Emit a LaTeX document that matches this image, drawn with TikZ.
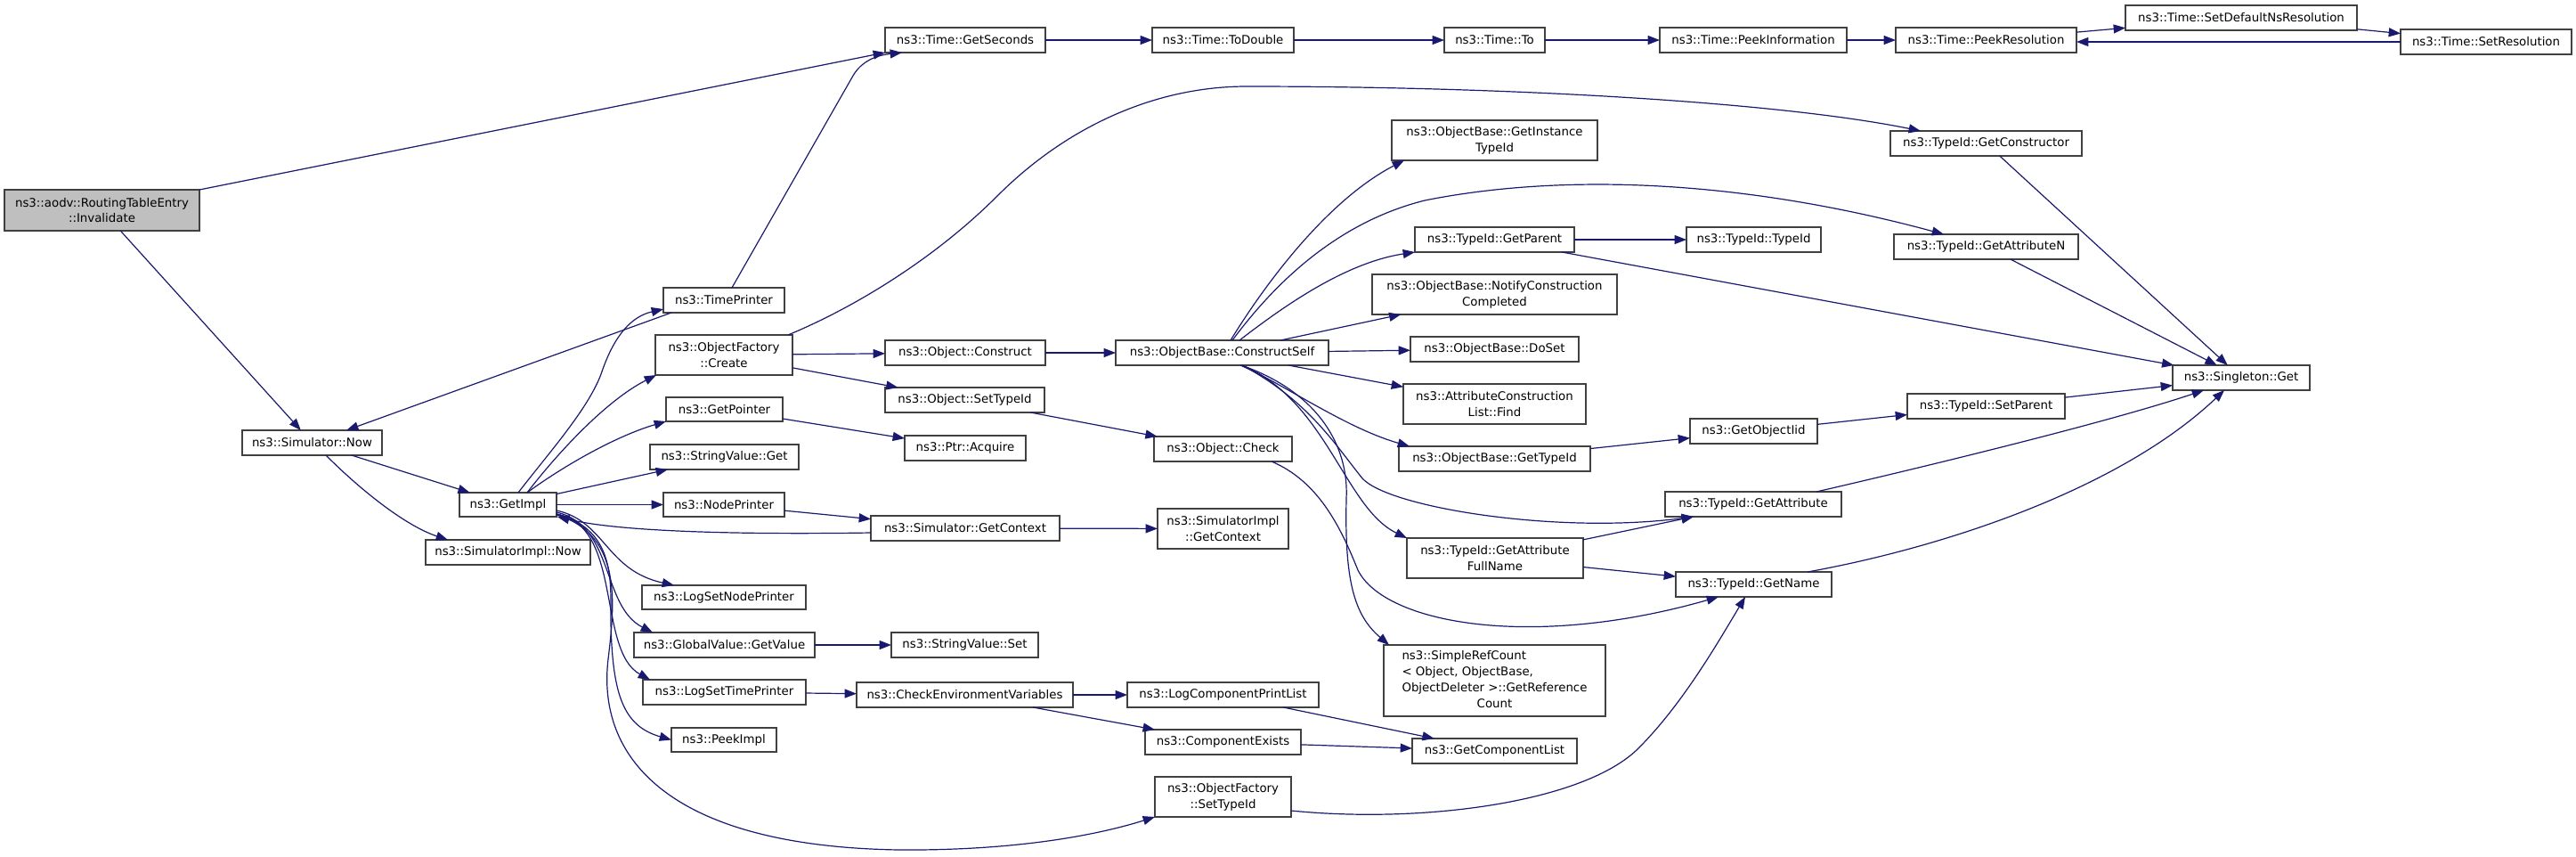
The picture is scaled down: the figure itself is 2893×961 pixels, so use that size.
\documentclass[tikz,border=0pt]{standalone}
\usepackage{fontspec}
\setmainfont{DejaVu Sans}
\usetikzlibrary{arrows.meta,calc}
\definecolor{edgec}{RGB}{25,25,112}
\definecolor{boxc}{RGB}{64,64,64}
\definecolor{rootfill}{RGB}{191,191,191}
\newcommand\cgnode[7][]{\node[fn,#1,minimum width={(#4-#2)*0.75pt},minimum height={(#5-#3)*0.75pt}] (#6) at ({(#2+#4)/2},{(#3+#5)/2}) {#7};}
\tikzset{
  fn/.style={draw=boxc,line width=0.9pt,fill=white,inner sep=0pt,outer sep=0pt,
    font=\fontsize{10}{13.3}\selectfont,align=center,text=black},
  calledge/.style={draw=edgec,line width=0.9pt,-{Triangle[length=10pt,width=7.5pt]}}
}
\begin{document}
\begin{tikzpicture}[x=0.75pt,y=-0.75pt]
\useasboundingbox (0,0) rectangle (2893,961);
% nodes
\cgnode[fill=rootfill]{5}{213}{224}{259}{inv}{ns3::aodv::RoutingTableEntry\\::Invalidate}
\cgnode{272}{483}{429}{511}{simnow}{ns3::Simulator::Now}
\cgnode{478}{606}{663}{634}{simimplnow}{ns3::SimulatorImpl::Now}
\cgnode{516}{553}{625}{580}{getimpl}{ns3::GetImpl}
\cgnode{745}{323}{881}{351}{timeprinter}{ns3::TimePrinter}
\cgnode{736}{376}{890}{421}{ofcreate}{ns3::ObjectFactory\\::Create}
\cgnode{748}{446}{879}{473}{getpointer}{ns3::GetPointer}
\cgnode{730}{499}{897}{527}{svget}{ns3::StringValue::Get}
\cgnode{745}{553}{881}{580}{nodeprinter}{ns3::NodePrinter}
\cgnode{721}{657}{905}{684}{logsetnode}{ns3::LogSetNodePrinter}
\cgnode{712}{710}{915}{738}{gvget}{ns3::GlobalValue::GetValue}
\cgnode{722}{763}{905}{791}{logsettime}{ns3::LogSetTimePrinter}
\cgnode{754}{817}{872}{844}{peekimpl}{ns3::PeekImpl}
\cgnode{994}{31}{1174}{59}{getseconds}{ns3::Time::GetSeconds}
\cgnode{1294}{31}{1453}{59}{todouble}{ns3::Time::ToDouble}
\cgnode{994}{382}{1174}{410}{objconstruct}{ns3::Object::Construct}
\cgnode{994}{435}{1173}{463}{objsettypeid}{ns3::Object::SetTypeId}
\cgnode{1016}{489}{1152}{517}{ptracquire}{ns3::Ptr::Acquire}
\cgnode{978}{579}{1190}{607}{simgetctx}{ns3::Simulator::GetContext}
\cgnode{1001}{710}{1166}{738}{svset}{ns3::StringValue::Set}
\cgnode{962}{766}{1205}{794}{checkenv}{ns3::CheckEnvironmentVariables}
\cgnode{1296}{490}{1451}{518}{objcheck}{ns3::Object::Check}
\cgnode{1253}{382}{1492}{410}{constructself}{ns3::ObjectBase::ConstructSelf}
\cgnode{1300}{571}{1447}{616}{simimplctx}{ns3::SimulatorImpl\\::GetContext}
\cgnode{1266}{766}{1481}{794}{logcomp}{ns3::LogComponentPrintList}
\cgnode{1286}{819}{1461}{847}{compexists}{ns3::ComponentExists}
\cgnode{1297}{872}{1450}{917}{ofsettypeid}{ns3::ObjectFactory\\::SetTypeId}
\cgnode{1622}{31}{1735}{59}{timeto}{ns3::Time::To}
\cgnode{1563}{135}{1794}{180}{getinst}{ns3::ObjectBase::GetInstance\\TypeId}
\cgnode{1589}{255}{1768}{283}{getparent}{ns3::TypeId::GetParent}
\cgnode{1541}{308}{1816}{353}{notify}{ns3::ObjectBase::NotifyConstruction\\Completed}
\cgnode{1584}{378}{1773}{406}{doset}{ns3::ObjectBase::DoSet}
\cgnode{1576}{431}{1781}{476}{acfind}{ns3::AttributeConstruction\\List::Find}
\cgnode{1571}{501}{1786}{529}{obgettypeid}{ns3::ObjectBase::GetTypeId}
\cgnode{1580}{604}{1778}{649}{getattrfull}{ns3::TypeId::GetAttribute\\FullName}
\cgnode{1554}{724}{1803}{804}{simpleref}{\begin{tabular}{@{}l@{}}ns3::SimpleRefCount\\< Object, ObjectBase,\\\multicolumn{1}{@{}c@{}}{ObjectDeleter >::GetReference}\\\multicolumn{1}{@{}c@{}}{Count}\end{tabular}}
\cgnode{1586}{829}{1771}{857}{getcomplist}{ns3::GetComponentList}
\cgnode{1864}{31}{2074}{59}{peekinfo}{ns3::Time::PeekInformation}
\cgnode{1894}{255}{2045}{283}{typeidtypeid}{ns3::TypeId::TypeId}
\cgnode{1898}{470}{2041}{498}{getobjiid}{ns3::GetObjectIid}
\cgnode{1870}{552}{2068}{580}{getattr}{ns3::TypeId::GetAttribute}
\cgnode{1882}{642}{2057}{670}{getname}{ns3::TypeId::GetName}
\cgnode{2129}{31}{2332}{59}{peekres}{ns3::Time::PeekResolution}
\cgnode{2123}{147}{2338}{175}{getctor}{ns3::TypeId::GetConstructor}
\cgnode{2127}{263}{2334}{291}{getattrn}{ns3::TypeId::GetAttributeN}
\cgnode{2142}{442}{2319}{470}{setparent}{ns3::TypeId::SetParent}
\cgnode{2387}{6}{2647}{34}{setdefns}{ns3::Time::SetDefaultNsResolution}
\cgnode{2440}{410}{2594}{438}{singleton}{ns3::Singleton::Get}
\cgnode{2696}{33}{2888}{61}{setres}{ns3::Time::SetResolution}
% edges
\draw[calledge] (inv.north east) -- (getseconds.south west);
\draw[calledge] (inv) -- (simnow);
\draw[calledge] ($(timeprinter.south west)+(9,0)$) -- (simnow);
\draw[calledge] ($(timeprinter.north west)+(77,0)$) -- (958,85) .. controls (968,68) and (985,62) .. ($(getseconds.south west)+(19,0)$);
\draw[calledge] (simnow) -- (getimpl);
\draw[calledge] ($(simnow.south west)+(94,0)$) .. controls (405,550) and (455,590) .. ($(simimplnow.north west)+(25,0)$);
\draw[calledge] ($(getimpl.north west)+(66,0)$) .. controls (615,510) and (660,460) .. (675,420) .. controls (690,375) and (710,355) .. ($(timeprinter.south west)+(0,-4)$);
\draw[calledge] ($(getimpl.north west)+(76,0)$) .. controls (625,510) and (680,450) .. ($(ofcreate.south west)+(1,0)$);
\draw[calledge] ($(getimpl.north west)+(76,0)$) .. controls (630,525) and (690,490) .. (getpointer.south west);
\draw[calledge] (getimpl) -- (svget);
\draw[calledge] (getimpl) -- (nodeprinter);
\draw[calledge] ($(getimpl.east)+(0,6.5)$) .. controls (680,585) and (680,640) .. ($(logsetnode.north west)+(36,0)$);
\draw[calledge] ($(getimpl.east)+(0,8.5)$) .. controls (690,590) and (675,680) .. ($(gvget.north west)+(21,0)$);
\draw[calledge] ($(getimpl.east)+(0,10.5)$) .. controls (700,590) and (670,730) .. ($(logsettime.north west)+(8,0)$);
\draw[calledge] ($(getimpl.east)+(0,10.5)$) .. controls (695,595) and (685,660) .. (686,700) .. controls (688,780) and (700,815) .. (peekimpl.west);
\draw[calledge] ($(getimpl.east)+(0,11.5)$) .. controls (700,600) and (690,680) .. (683,740) .. controls (670,850) and (750,950) .. (1010,954) .. controls (1150,955) and (1240,935) .. (ofsettypeid.south west);
\draw[calledge] ($(simgetctx.west)+(0,5)$) .. controls (850,600) and (700,598) .. ($(getimpl.south east)+(1,0)$);
\draw[calledge] (nodeprinter) -- (simgetctx);
\draw[calledge] (gvget) -- (svset);
\draw[calledge] (logsettime) -- (checkenv);
\draw[calledge] (getpointer) -- (ptracquire);
\draw[calledge] (ofcreate) -- (objconstruct);
\draw[calledge] (ofcreate) -- (objsettypeid);
\draw[calledge] ($(ofcreate.north east)+(-5,0)$) .. controls (960,345) and (1050,290) .. (1120,220) .. controls (1200,140) and (1300,97) .. (1400,97) .. controls (1700,97) and (2000,115) .. ($(getctor.north west)+(34,0)$);
\draw[calledge] (objconstruct) -- (constructself);
\draw[calledge] (objsettypeid) -- (objcheck);
\draw[calledge] ($(objcheck.south east)+(-23,0)$) .. controls (1480,540) and (1505,590) .. (1525,640) .. controls (1555,700) and (1720,730) .. ($(getname.south west)+(48,0)$);
\draw[calledge] (simgetctx) -- (simimplctx);
\draw[calledge] (checkenv) -- (logcomp);
\draw[calledge] (checkenv) -- (compexists);
\draw[calledge] (logcomp) -- (getcomplist);
\draw[calledge] (compexists) -- (getcomplist);
\draw[calledge] ($(ofsettypeid.east)+(0,15.5)$) .. controls (1600,925) and (1780,900) .. (1840,840) .. controls (1890,790) and (1930,720) .. ($(getname.south west)+(78,0)$);
\draw[calledge] ($(constructself.north west)+(129,0)$) .. controls (1420,320) and (1490,225) .. ($(getinst.south west)+(14,0)$);
\draw[calledge] ($(constructself.north west)+(131,0)$) .. controls (1430,320) and (1500,250) .. (1600,225) .. controls (1750,195) and (1950,200) .. ($(getattrn.north west)+(56,0)$);
\draw[calledge] ($(constructself.north west)+(139,0)$) .. controls (1440,345) and (1510,295) .. (getparent.south west);
\draw[calledge] (constructself) -- (notify);
\draw[calledge] (constructself) -- (doset);
\draw[calledge] (constructself) -- (acfind);
\draw[calledge] ($(constructself.south west)+(140,0)$) .. controls (1440,430) and (1510,480) .. ($(obgettypeid.north west)+(12,0)$);
\draw[calledge] ($(constructself.south west)+(142,0)$) .. controls (1470,450) and (1500,500) .. (1530,537) .. controls (1560,570) and (1750,600) .. ($(getattr.south west)+(32,0)$);
\draw[calledge] ($(constructself.south west)+(142,0)$) .. controls (1490,450) and (1510,570) .. (getattrfull.north west);
\draw[calledge] ($(constructself.south west)+(141,0)$) .. controls (1480,440) and (1515,500) .. (1512,560) .. controls (1510,650) and (1520,690) .. ($(simpleref.north west)+(6,0)$);
\draw[calledge] (getparent) -- (typeidtypeid);
\draw[calledge] (getparent) -- (singleton);
\draw[calledge] (getctor) -- (singleton);
\draw[calledge] (getattrn) -- (singleton);
\draw[calledge] (setparent) -- (singleton);
\draw[calledge] ($(getattr.north west)+(170,0)$) .. controls (2200,515) and (2380,470) .. ($(singleton.south west)+(35,0)$);
\draw[calledge] ($(getname.north west)+(148,0)$) .. controls (2180,615) and (2380,550) .. ($(singleton.south west)+(58,0)$);
\draw[calledge] (getattrfull) -- (getattr);
\draw[calledge] (getattrfull) -- (getname);
\draw[calledge] (obgettypeid) -- (getobjiid);
\draw[calledge] (getobjiid) -- (setparent);
\draw[calledge] (getseconds) -- (todouble);
\draw[calledge] (todouble) -- (timeto);
\draw[calledge] (timeto) -- (peekinfo);
\draw[calledge] (peekinfo) -- (peekres);
\draw[calledge] (peekres) -- (setdefns);
\draw[calledge] (setdefns) -- (setres);
\draw[calledge] (setres.west) -- (setres.west -| peekres.east);
\end{tikzpicture}
\end{document}
